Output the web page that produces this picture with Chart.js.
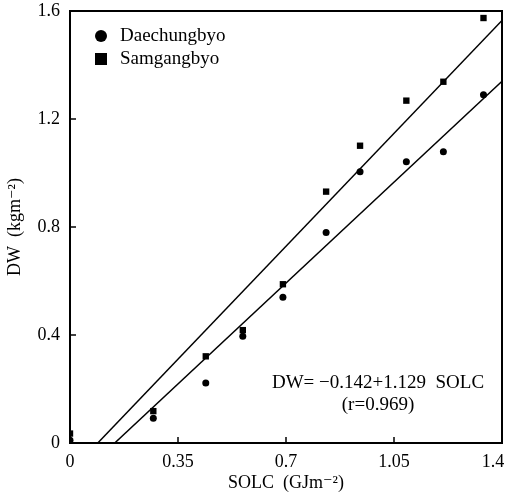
<!DOCTYPE html>
<html>
<head>
<meta charset="utf-8">
<script src="https://cdn.jsdelivr.net/npm/chart.js@4/dist/chart.umd.min.js"></script>
<style>
  html, body { margin: 0; padding: 0; background: #fff; }
  #wrap { width: 511px; height: 497px; }
</style>
</head>
<body>
<div id="wrap"><canvas id="dwChart" width="511" height="497"></canvas></div>
<script>
// SOLC values (GJ m-2), shared by both sites
var solc = [0, 0.27, 0.44, 0.56, 0.69, 0.83, 0.94, 1.09, 1.21, 1.34];

// DW values (kg m-2)
var dwDaechungbyo = [0.01, 0.092, 0.222, 0.395, 0.540, 0.780, 1.005, 1.042, 1.079, 1.290];
var dwSamgangbyo  = [0.035, 0.118, 0.321, 0.418, 0.588, 0.931, 1.101, 1.268, 1.338, 1.574];

// fitted lines, end points
var upperLine = [{ x: 0.09, y: 0 }, { x: 1.4, y: 1.565 }];
var lowerLine = [{ x: 0.145, y: 0 }, { x: 1.4, y: 1.34 }];

var xTicks = [0, 0.35, 0.7, 1.05, 1.4];
// trailing spaces pull the last label back inside the canvas
var xTickLabels = ['0', '0.35', '0.7', '1.05', '1.4    '];
var yTicks = [0, 0.4, 0.8, 1.2, 1.6];
var yTickLabels = ['0', '0.4', '0.8', '1.2', '1.6'];

var legendLabels = ['Daechungbyo', 'Samgangbyo'];
var equationText = 'DW= \u22120.142+1.129  SOLC';
var rText = '(r=0.969)';

var serif = '"Liberation Serif", "DejaVu Serif", serif';

function toPoints(xs, ys) {
  return xs.map(function(x, i) { return { x: x, y: ys[i] }; });
}

// frame, inward ticks, legend and the regression note
var framePlugin = {
  id: 'frame',
  afterDraw: function(chart) {
    var ctx = chart.ctx;
    var a = chart.chartArea;
    var xs = chart.scales.x, ys = chart.scales.y;
    ctx.save();
    ctx.strokeStyle = '#000';
    ctx.lineWidth = 2;
    ctx.strokeRect(a.left, a.top, a.right - a.left, a.bottom - a.top);

    ctx.lineWidth = 1.5;
    xTicks.slice(1, -1).forEach(function(v) {
      var px = xs.getPixelForValue(v);
      ctx.beginPath();
      ctx.moveTo(px, a.bottom);
      ctx.lineTo(px, a.bottom - 6);
      ctx.stroke();
    });
    yTicks.slice(1, -1).forEach(function(v) {
      var py = ys.getPixelForValue(v);
      ctx.beginPath();
      ctx.moveTo(a.left, py);
      ctx.lineTo(a.left + 6, py);
      ctx.stroke();
    });

    // legend
    ctx.fillStyle = '#000';
    ctx.beginPath();
    ctx.arc(a.left + 31, a.top + 25, 6, 0, Math.PI * 2);
    ctx.fill();
    ctx.fillRect(a.left + 25, a.top + 42, 12, 12);
    ctx.font = '19px ' + serif;
    ctx.textBaseline = 'middle';
    ctx.textAlign = 'left';
    ctx.fillText(legendLabels[0], a.left + 50, a.top + 25);
    ctx.fillText(legendLabels[1], a.left + 50, a.top + 48);

    // equation
    ctx.font = '19px ' + serif;
    ctx.textAlign = 'center';
    ctx.fillText(equationText, a.left + 308, a.bottom - 60);
    ctx.fillText(rText, a.left + 308, a.bottom - 38);
    ctx.restore();
  }
};

var ctx = document.getElementById('dwChart').getContext('2d');

new Chart(ctx, {
  type: 'scatter',
  data: {
    datasets: [
      {
        label: legendLabels[0],
        data: toPoints(solc, dwDaechungbyo),
        pointStyle: 'circle',
        pointRadius: 3.5,
        backgroundColor: '#000',
        borderColor: '#000',
        borderWidth: 0
      },
      {
        label: legendLabels[1],
        data: toPoints(solc, dwSamgangbyo),
        pointStyle: 'rect',
        pointRadius: 4.5,
        backgroundColor: '#000',
        borderColor: '#000',
        borderWidth: 0
      },
      {
        label: 'fit upper',
        data: upperLine,
        showLine: true,
        pointRadius: 0,
        borderColor: '#000',
        borderWidth: 1.5
      },
      {
        label: 'fit lower',
        data: lowerLine,
        showLine: true,
        pointRadius: 0,
        borderColor: '#000',
        borderWidth: 1.5
      }
    ]
  },
  options: {
    responsive: false,
    animation: false,
    layout: { padding: { top: 11, right: 9, left: 0, bottom: 0 } },
    plugins: {
      legend: { display: false },
      tooltip: { enabled: false }
    },
    scales: {
      x: {
        type: 'linear',
        min: 0,
        max: 1.4,
        afterBuildTicks: function(scale) {
          scale.ticks = xTicks.map(function(v) { return { value: v }; });
        },
        afterFit: function(scale) {
          scale.height = 54;
          scale.paddingLeft = 0;
          scale.paddingRight = 0;
        },
        grid: { display: false, drawTicks: false },
        border: { display: false },
        ticks: {
          color: '#000',
          padding: 8,
          maxRotation: 0,
          font: { family: serif, size: 18 },
          callback: function(v, i) { return xTickLabels[i]; }
        },
        title: {
          display: true,
          text: 'SOLC  (GJm\u207B\u00B2)',
          color: '#000',
          font: { family: serif, size: 18 },
          padding: { top: 0, bottom: 3 }
        }
      },
      y: {
        type: 'linear',
        min: 0,
        max: 1.6,
        afterBuildTicks: function(scale) {
          scale.ticks = yTicks.map(function(v) { return { value: v }; });
        },
        afterFit: function(scale) {
          scale.width = 70;
          scale.paddingTop = 0;
          scale.paddingBottom = 0;
        },
        grid: { display: false, drawTicks: false },
        border: { display: false },
        ticks: {
          color: '#000',
          padding: 10,
          font: { family: serif, size: 18 },
          callback: function(v, i) { return yTickLabels[i]; }
        },
        title: {
          display: true,
          text: 'DW  (kgm\u207B\u00B2)',
          color: '#000',
          font: { family: serif, size: 18 },
          padding: { top: 4, bottom: 0 }
        }
      }
    }
  },
  plugins: [framePlugin]
});
</script>
</body>
</html>
